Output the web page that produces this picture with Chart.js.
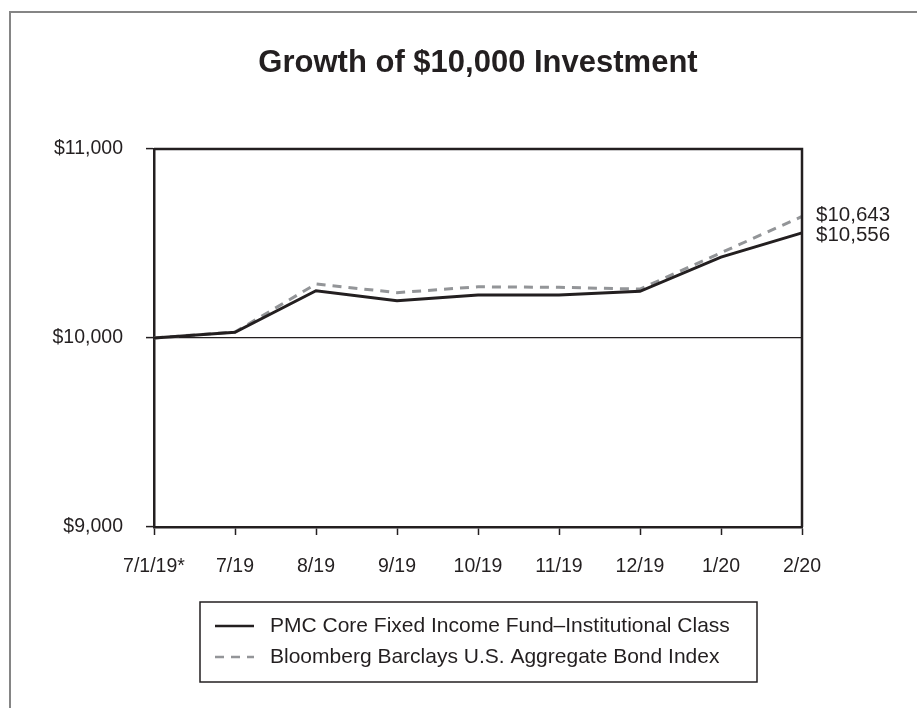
<!DOCTYPE html>
<html>
<head>
<meta charset="utf-8">
<title>Growth of $10,000 Investment</title>
<script src="https://cdn.jsdelivr.net/npm/chart.js@4.4.1/dist/chart.umd.min.js"></script>
<style>
  html, body { margin: 0; padding: 0; background: #fff; }
  canvas { display: block; }
</style>
</head>
<body>
<canvas id="growthChart" width="917" height="708"></canvas>
<script>
const periods = ['7/1/19*', '7/19', '8/19', '9/19', '10/19', '11/19', '12/19', '1/20', '2/20'];
const fundValues = [10000, 10030, 10250, 10197, 10228, 10228, 10247, 10428, 10556];
const indexValues = [10000, 10032, 10286, 10240, 10271, 10268, 10259, 10451, 10643];
const yTicks = [9000, 10000, 11000];
const seriesNames = [
    'PMC Core Fixed Income Fund\u2013Institutional Class',
    'Bloomberg Barclays U.S. Aggregate Bond Index'
];

const INK = '#231f20';
const GREY = '#939598';
const FONT = '"Liberation Sans", Arial, Helvetica, sans-serif';

function money(v) {
    return '$' + Number(v).toLocaleString('en-US');
}

// frame, title, plot border, end-value labels and the boxed legend
const decorations = {
    id: 'decorations',
    beforeDraw(chart) {
        const ctx = chart.ctx;
        ctx.save();
        ctx.fillStyle = '#fff';
        ctx.fillRect(0, 0, chart.width, chart.height);
        ctx.strokeStyle = '#858585';
        ctx.lineWidth = 2;
        ctx.beginPath();
        ctx.moveTo(chart.width, 12);
        ctx.lineTo(10, 12);
        ctx.lineTo(10, chart.height);
        ctx.stroke();
        ctx.restore();
    },
    afterDraw(chart) {
        const ctx = chart.ctx;
        const area = chart.chartArea;
        const x = chart.scales.x;
        const y = chart.scales.y;
        ctx.save();

        // title
        ctx.fillStyle = INK;
        ctx.font = 'bold 31px ' + FONT;
        ctx.textAlign = 'center';
        ctx.textBaseline = 'alphabetic';
        ctx.fillText('Growth of $10,000 Investment', (area.left + area.right) / 2, 72);

        // top and right edges of the plot box
        ctx.strokeStyle = INK;
        ctx.lineWidth = 2.5;
        ctx.beginPath();
        ctx.moveTo(area.left, area.top);
        ctx.lineTo(area.right, area.top);
        ctx.lineTo(area.right, area.bottom);
        ctx.stroke();

        // last values next to the right edge
        const last = periods.length - 1;
        const lx = x.getPixelForValue(last) + 14;
        ctx.font = '20.5px ' + FONT;
        ctx.textAlign = 'left';
        ctx.textBaseline = 'middle';
        ctx.fillText(money(indexValues[last]), lx, y.getPixelForValue(indexValues[last]) - 1);
        ctx.fillText(money(fundValues[last]), lx, y.getPixelForValue(fundValues[last]) + 2.5);

        // legend box
        const box = { left: 200, top: 602, right: 757, bottom: 682 };
        ctx.lineWidth = 1.5;
        ctx.strokeRect(box.left, box.top, box.right - box.left, box.bottom - box.top);
        const rows = [626, 657];
        chart.data.datasets.forEach((ds, i) => {
            ctx.beginPath();
            ctx.strokeStyle = ds.borderColor;
            ctx.lineWidth = 2.5;
            ctx.setLineDash(ds.borderDash || []);
            ctx.moveTo(215, rows[i]);
            ctx.lineTo(254, rows[i]);
            ctx.stroke();
            ctx.setLineDash([]);
            ctx.fillStyle = INK;
            ctx.font = '21px ' + FONT;
            ctx.fillText(ds.label, 270, rows[i]);
        });
        ctx.restore();
    }
};

const ctx = document.getElementById('growthChart').getContext('2d');
new Chart(ctx, {
    type: 'line',
    data: {
        labels: periods,
        datasets: [
            {
                label: seriesNames[0],
                data: fundValues,
                borderColor: INK,
                borderWidth: 3,
                pointRadius: 0,
                tension: 0
            },
            {
                label: seriesNames[1],
                data: indexValues,
                borderColor: GREY,
                borderWidth: 3,
                borderDash: [9, 7],
                pointRadius: 0,
                tension: 0
            }
        ]
    },
    options: {
        responsive: false,
        animation: false,
        layout: { padding: { left: 10, right: 115, top: 149, bottom: 121 } },
        plugins: {
            legend: { display: false },
            title: { display: false },
            tooltip: { enabled: false }
        },
        scales: {
            x: {
                offset: false,
                afterFit(scale) { scale.height = 60; },
                grid: {
                    drawOnChartArea: false,
                    tickLength: 8,
                    tickColor: INK,
                    tickWidth: 1.5
                },
                border: { color: INK, width: 2.5 },
                ticks: {
                    color: INK,
                    padding: 20,
                    maxRotation: 0,
                    autoSkip: false,
                    font: { family: FONT, size: 19.5 }
                }
            },
            y: {
                min: yTicks[0],
                max: yTicks[yTicks.length - 1],
                afterFit(scale) { scale.width = 144; },
                afterBuildTicks(scale) {
                    scale.ticks = yTicks.map(v => ({ value: v }));
                },
                grid: {
                    color: c => (c.tick && c.tick.value === 10000 ? INK : 'rgba(0,0,0,0)'),
                    lineWidth: 1.2,
                    tickLength: 8,
                    tickColor: INK,
                    tickWidth: 1.5
                },
                border: { color: INK, width: 2.5 },
                ticks: {
                    color: INK,
                    padding: 23,
                    font: { family: FONT, size: 19.5 },
                    callback: v => money(v)
                }
            }
        }
    },
    plugins: [decorations]
});
</script>
</body>
</html>
